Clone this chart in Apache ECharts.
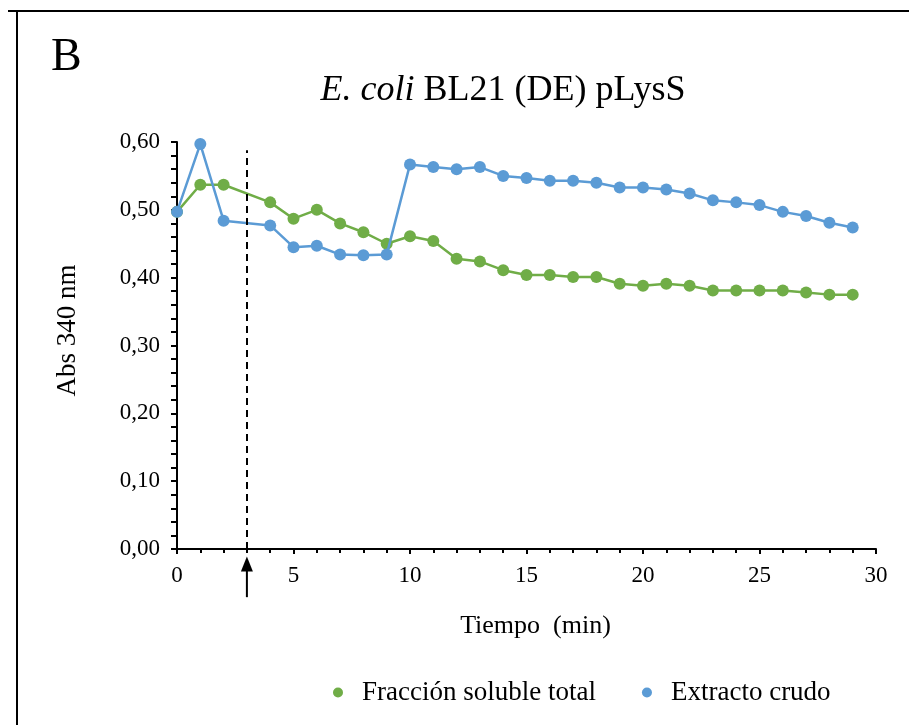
<!DOCTYPE html>
<html><head><meta charset="utf-8">
<script src="https://cdn.jsdelivr.net/npm/echarts@6/dist/echarts.min.js"></script>
<style>html,body{margin:0;padding:0;background:#fff}#c{width:909px;height:725px}</style>
</head><body><div id="c"></div>
<script>
const tiempo = [0,1,2,4,5,6,7,8,9,10,11,12,13,14,15,16,17,18,19,20,21,22,23,24,25,26,27,28,29];
const fraccionSoluble = [0.497,0.537,0.537,0.511,0.487,0.500,0.480,0.467,0.450,0.461,0.454,0.428,0.424,0.411,0.404,0.404,0.401,0.401,0.391,0.388,0.391,0.388,0.381,0.381,0.381,0.381,0.378,0.375,0.375];
const extractoCrudo = [0.497,0.597,0.484,0.477,0.445,0.447,0.434,0.433,0.434,0.567,0.563,0.560,0.563,0.550,0.547,0.543,0.543,0.540,0.533,0.533,0.530,0.524,0.514,0.511,0.507,0.497,0.491,0.481,0.474];
const seriesNames = ['Fracción soluble total','Extracto crudo'];
const inductionTime = 3;
const dashedTop = 0.588;
const arrowFrom = -0.071, arrowTo = -0.011;

const font = 'Liberation Serif, Times New Roman, serif';
const chart = echarts.init(document.getElementById('c'), null, {renderer:'canvas'});
const pair = (xs, ys) => xs.map((x,i)=>[x, ys[i]]);
chart.setOption({
  animation:false,
  textStyle:{fontFamily:font, color:'#000'},
  title:{
    text:'{i|E. coli} BL21 (DE) pLysS',
    left:498, top:68, textAlign:'center',
    textStyle:{fontFamily:font, fontSize:36, fontWeight:'normal', color:'#000',
      rich:{i:{fontFamily:font, fontSize:36, fontStyle:'italic', color:'#000'}}}
  },
  legend:{
    bottom:14, left:328, itemGap:46, icon:'circle', itemWidth:10, itemHeight:10,
    textStyle:{fontFamily:font, fontSize:27, color:'#000', padding:[0,0,0,14]},
    data:seriesNames
  },
  grid:{left:177, right:33, top:142, bottom:176, containLabel:false},
  xAxis:{
    type:'value', min:0, max:30, interval:5,
    name:'Tiempo  (min)', nameLocation:'middle', nameGap:64,
    nameTextStyle:{fontFamily:font, fontSize:26, color:'#000', padding:[0,0,0,18]},
    axisLine:{show:true, lineStyle:{color:'#000', width:2}},
    axisTick:{show:true, length:5, lineStyle:{color:'#000', width:2}},
    minorTick:{show:true, splitNumber:5, length:4, lineStyle:{color:'#000', width:2}},
    axisLabel:{fontFamily:font, fontSize:23, color:'#000', margin:15},
    splitLine:{show:false}
  },
  yAxis:{
    type:'value', min:0, max:0.6, interval:0.1,
    name:'Abs 340 nm', nameLocation:'middle', nameGap:96, nameRotate:90,
    nameTextStyle:{fontFamily:font, fontSize:27, color:'#000', padding:[0,0,0,30]},
    axisLine:{show:true, lineStyle:{color:'#000', width:2}},
    axisTick:{show:true, length:6, lineStyle:{color:'#000', width:2}},
    minorTick:{show:true, splitNumber:5, length:6, lineStyle:{color:'#000', width:2}},
    axisLabel:{fontFamily:font, fontSize:23, color:'#000', margin:17,
      formatter:v=>v.toFixed(2).replace('.',',')},
    splitLine:{show:false}
  },
  series:[
    {name:seriesNames[0], type:'line', data:pair(tiempo, fraccionSoluble),
     symbol:'circle', symbolSize:12, color:'#70AD47',
     lineStyle:{width:2.5, color:'#70AD47'}, itemStyle:{color:'#70AD47'}, z:2,
     markLine:{silent:true, symbol:['none','none'], label:{show:false},
       lineStyle:{color:'#000', type:[7,5], width:2},
       data:[[{coord:[inductionTime,0]},{coord:[inductionTime,dashedTop]}]]}},
    {name:seriesNames[1], type:'line', data:pair(tiempo, extractoCrudo),
     symbol:'circle', symbolSize:12, color:'#5B9BD5',
     lineStyle:{width:2.5, color:'#5B9BD5'}, itemStyle:{color:'#5B9BD5'}, z:3}
  ]
});
// arrow marking induction time, placed through the axis scales
const pFrom = chart.convertToPixel({gridIndex:0}, [inductionTime, arrowFrom]);
const pTo = chart.convertToPixel({gridIndex:0}, [inductionTime, arrowTo]);
const headH = 15, headW = 12;
chart.setOption({graphic:[
  {id:'borderTop', type:'line', shape:{x1:8,y1:11,x2:909,y2:11}, style:{stroke:'#000', lineWidth:2}},
  {id:'borderLeft', type:'line', shape:{x1:17,y1:11,x2:17,y2:725}, style:{stroke:'#000', lineWidth:2}},
  {id:'panel', type:'text', left:51, top:35, style:{text:'B', font:'46px '+font, fill:'#000'}},
  {id:'arrowShaft', type:'line', shape:{x1:pFrom[0], y1:pFrom[1], x2:pTo[0], y2:pTo[1]+headH-2}, style:{stroke:'#000', lineWidth:2}},
  {id:'arrowHead', type:'polygon', shape:{points:[[pTo[0], pTo[1]], [pTo[0]-headW/2, pTo[1]+headH], [pTo[0]+headW/2, pTo[1]+headH]]}, style:{fill:'#000'}}
]});
</script></body></html>
